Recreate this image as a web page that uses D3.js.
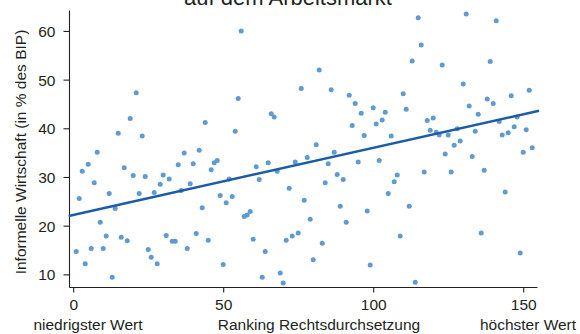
<!DOCTYPE html>
<html>
<head>
<meta charset="utf-8">
<script src="https://cdn.jsdelivr.net/npm/d3@7"></script>
<style>
  html, body { margin: 0; padding: 0; background: #fff; }
  svg text { font-family: 'Liberation Sans', Arial, sans-serif; fill: #231f20; }
</style>
</head>
<body>
<div id="chart"></div>
<script>

// ranking of law enforcement (1 = lowest value)
const rank = [
  1, 2, 3, 4, 5, 6, 7, 8, 9, 10, 11, 12, 13, 14, 15, 16, 17, 18, 19, 20,
  21, 22, 23, 24, 25, 26, 27, 28, 29, 30, 31, 32, 33, 34, 35, 36, 37, 38, 39, 40,
  41, 42, 43, 44, 45, 46, 47, 48, 49, 50, 51, 52, 53, 54, 55, 56, 57, 58, 59, 60,
  61, 62, 63, 64, 65, 66, 67, 68, 69, 70, 71, 72, 73, 74, 75, 76, 77, 78, 79, 80,
  81, 82, 83, 84, 85, 86, 87, 88, 89, 90, 91, 92, 93, 94, 95, 96, 97, 98, 99, 100,
  101, 102, 103, 104, 105, 106, 107, 108, 109, 110, 111, 112, 113, 114, 115, 116, 117, 118, 119, 120,
  121, 122, 123, 124, 125, 126, 127, 128, 129, 130, 131, 132, 133, 134, 135, 136, 137, 138, 139, 140,
  141, 142, 143, 144, 145, 146, 147, 148, 149, 150, 151, 152, 153
];

// informal economy in % of GDP
const informal = [
  14.7, 25.6, 31.2, 12.2, 32.6, 15.3, 28.8, 35.1, 20.7, 15.3,
  17.9, 26.6, 9.4, 23.5, 39.0, 17.6, 31.9, 16.9, 42.0, 30.3,
  47.3, 26.6, 38.4, 30.1, 15.1, 13.5, 26.8, 12.2, 28.5, 30.4,
  18.0, 29.6, 16.8, 16.8, 32.5, 27.2, 34.9, 15.3, 28.6, 32.7,
  18.4, 35.5, 23.7, 41.2, 17.0, 31.5, 32.9, 33.4, 26.2, 12.0,
  24.7, 29.6, 26.0, 39.4, 46.1, 60.0, 21.9, 22.2, 22.9, 17.2,
  32.1, 29.5, 9.4, 14.7, 32.9, 43.0, 42.3, 31.2, 10.3, 8.2,
  17.0, 27.7, 17.9, 33.1, 18.5, 48.2, 25.2, 34.0, 21.3, 13.0,
  36.6, 52.0, 16.4, 28.8, 32.7, 47.9, 35.1, 30.5, 24.0, 29.5,
  20.7, 46.8, 40.6, 45.1, 33.1, 43.1, 38.5, 23.0, 11.9, 44.2,
  40.9, 33.4, 41.7, 43.3, 26.6, 38.4, 29.0, 30.4, 17.9, 47.1,
  43.9, 24.0, 53.8, 8.4, 62.7, 57.1, 31.0, 41.6, 39.6, 42.1,
  39.2, 38.6, 53.0, 34.7, 38.6, 31.0, 36.5, 39.9, 37.4, 49.1,
  63.5, 44.6, 34.2, 39.4, 42.9, 18.5, 31.4, 46.0, 53.7, 45.1,
  62.1, 41.4, 38.6, 26.9, 39.1, 46.7, 40.3, 42.3, 14.4, 35.1,
  39.7, 47.8, 36.0
];

// linear fit as drawn in the original
const fitIntercept = 22.19;
const fitSlope = 0.1379;
const fitRange = [-1.5, 155.3];

const xTicks = [0, 50, 100, 150];
const yTicks = [10, 20, 30, 40, 50, 60];

const chart = {
  width: 580,
  height: 334,
  left: 69,
  right: 537,
  top: 10,
  bottom: 287,
  dot: '#5e9bd3',
  line: '#1c5ba6'
};

let svg = d3.select('#chart')
  .append('svg')
  .attr('width', chart.width)
  .attr('height', chart.height);

let x = d3.scaleLinear()
  .domain([-1.4, 154.6])
  .range([chart.left, chart.right]);

let y = d3.scaleLinear()
  .domain([7.4, 64.3])
  .range([chart.bottom, chart.top]);

// title, first line is outside the picture
svg.append('text')
  .attr('x', 288)
  .attr('y', 4.5)
  .attr('text-anchor', 'middle')
  .style('font-size', '22px')
  .text('auf dem Arbeitsmarkt');

// axes
let xAxis = svg.append('g')
  .attr('transform', `translate(0, ${chart.bottom})`)
  .call(d3.axisBottom(x).tickValues(xTicks).tickSize(5.5).tickSizeOuter(0).tickPadding(6));

let yAxis = svg.append('g')
  .attr('transform', `translate(${chart.left}, 0)`)
  .call(d3.axisLeft(y).tickValues(yTicks).tickSize(5.5).tickSizeOuter(0).tickPadding(8));

svg.selectAll('.domain, .tick line')
  .attr('stroke', '#231f20')
  .attr('stroke-width', 1.1);

svg.selectAll('.tick text')
  .style('font-size', '15.5px')
  .attr('fill', '#231f20');

yAxis.selectAll('.tick text')
  .attr('dy', '0.36em');

// points
svg.append('g')
  .selectAll('circle')
  .data(informal)
  .enter()
  .append('circle')
  .attr('cx', (d, i) => x(rank[i]))
  .attr('cy', d => y(d))
  .attr('r', 2.5)
  .style('fill', chart.dot);

// fitted line
svg.append('line')
  .attr('x1', x(fitRange[0]))
  .attr('y1', y(fitIntercept + fitSlope * fitRange[0]))
  .attr('x2', x(fitRange[1]))
  .attr('y2', y(fitIntercept + fitSlope * fitRange[1]))
  .style('stroke', chart.line)
  .style('stroke-width', 2.4);

// axis titles
svg.append('text')
  .attr('transform', 'translate(26, 152) rotate(-90)')
  .attr('text-anchor', 'middle')
  .style('font-size', '15.5px')
  .text('Informelle Wirtschaft (in % des BIP)');

let bottomLabels = [
  { text: 'niedrigster Wert', x: 88 },
  { text: 'Ranking Rechtsdurchsetzung', x: 319 },
  { text: 'höchster Wert', x: 528 }
];

svg.selectAll('.bottom-label')
  .data(bottomLabels)
  .enter()
  .append('text')
  .classed('bottom-label', true)
  .attr('x', d => d.x)
  .attr('y', 330)
  .attr('text-anchor', 'middle')
  .style('font-size', '15.5px')
  .text(d => d.text);

</script>
</body>
</html>
